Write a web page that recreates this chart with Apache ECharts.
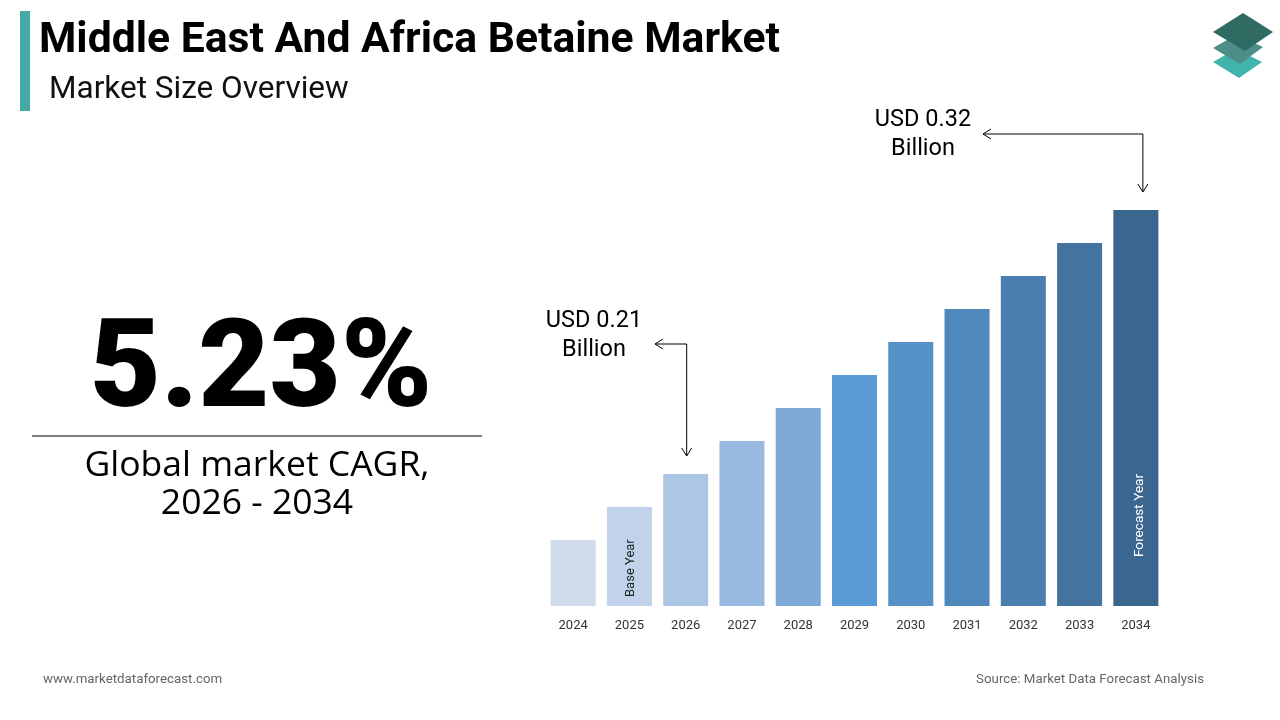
<!DOCTYPE html>
<html>
<head>
<meta charset="utf-8">
<script src="https://cdn.jsdelivr.net/npm/echarts@6/dist/echarts.min.js"></script>
<style>
html,body{margin:0;padding:0;background:#fff;}
#c{width:1280px;height:720px;}
</style>
</head>
<body>
<div id="c"></div>
<script>
// ---- data ----
const years = ['2024','2025','2026','2027','2028','2029','2030','2031','2032','2033','2034'];
// relative bar heights as drawn in the picture (stylised growth bars)
const barValues = [2, 3, 4, 5, 6, 7, 8, 9, 10, 11, 12];
const barColors = ['#d0dcec','#c0d3ea','#adc6e5','#97b9df','#7eaad9','#5b9bd5','#5590c7','#4f88bb','#4a7eaf','#4473a0','#3b6690'];
const titleText = 'Middle East And Africa Betaine Market';
const subtitleText = 'Market Size Overview';
const cagrText = '5.23%';
const cagrCaption = ['Global market CAGR,', '2026 - 2034'];
const annotations = [
  {year: '2026', text: ['USD 0.21', 'Billion']},
  {year: '2034', text: ['USD 0.32', 'Billion']}
];
const specialLabels = {'2025': 'Base Year', '2034': 'Forecast Year'};
const footerLeft = 'www.marketdataforecast.com';
const footerRight = 'Source: Market Data Forecast Analysis';

const chart = echarts.init(document.getElementById('c'), null, {renderer: 'canvas'});

const seriesData = barValues.map((v, i) => {
  const d = {value: v, itemStyle: {color: barColors[i]}};
  const sl = specialLabels[years[i]];
  if (sl) {
    const isForecast = years[i] === '2034';
    d.label = {
      show: true,
      formatter: sl,
      position: 'insideBottom',
      rotate: 90,
      align: 'left',
      verticalAlign: 'middle',
      distance: isForecast ? 49 : 9,
      offset: isForecast ? [0, 4] : [0, 1],
      color: isForecast ? '#ffffff' : '#222222',
      fontSize: isForecast ? 13.6 : 13,
      fontFamily: 'Roboto'
    };
  }
  return d;
});

const option = {
  animation: false,
  backgroundColor: '#ffffff',
  grid: {left: 545, right: 116, top: 210, bottom: 114},
  xAxis: {
    type: 'category',
    data: years,
    axisLine: {show: false},
    axisTick: {show: false},
    axisLabel: {color: '#333', fontSize: 13, fontFamily: 'Roboto', margin: 13}
  },
  yAxis: {type: 'value', min: 0, max: 12, show: false, splitLine: {show: false}},
  series: [{
    type: 'bar',
    data: seriesData,
    barCategoryGap: '20%',
    label: {show: false}
  }]
};
chart.setOption(option);

function buildGraphics() {
  const g = [];
  // left accent bar
  g.push({type: 'rect', shape: {x: 20, y: 11, width: 10, height: 100}, style: {fill: '#45a9a6'}});
  g.push({type: 'text', style: {text: titleText, x: 39, y: 41, verticalAlign: 'middle', font: 'bold 42.7px Roboto', fill: '#000'}});
  g.push({type: 'text', style: {text: subtitleText, x: 49, y: 90, verticalAlign: 'middle', font: '31.5px Roboto', fill: '#111'}});
  // logo
  g.push({type: 'polygon', shape: {points: [[1213,62],[1236,49],[1262,62],[1239,78]]}, style: {fill: '#40b3ad'}});
  g.push({type: 'polygon', shape: {points: [[1213,48],[1236,35],[1263,47],[1240,64]]}, style: {fill: '#4d8f88'}});
  g.push({type: 'polygon', shape: {points: [[1213,32],[1243,13],[1273,32],[1245,51]]}, style: {fill: '#2f6b63'}});
  // CAGR block
  g.push({type: 'text', style: {text: cagrText, x: 261, y: 375, align: 'center', verticalAlign: 'middle', font: '900 123px Roboto', fill: '#000'}});
  g.push({type: 'line', shape: {x1: 32, y1: 436, x2: 482, y2: 436}, style: {stroke: '#000', lineWidth: 1}});
  g.push({type: 'text', style: {text: cagrCaption[0], x: 257, y: 466, align: 'center', verticalAlign: 'middle', font: '35.5px "Open Sans"', fill: '#000'}});
  g.push({type: 'text', style: {text: cagrCaption[1], x: 257, y: 504, align: 'center', verticalAlign: 'middle', font: '35.5px "Open Sans"', fill: '#000'}});
  // annotations anchored to bars
  annotations.forEach((a, k) => {
    const idx = years.indexOf(a.year);
    const top = chart.convertToPixel({gridIndex: 0}, [idx, barValues[idx]]);
    const bx = top[0] + (k === 0 ? 1 : 7);
    const arrowEndY = top[1] - 18;
    const hy = k === 0 ? 344 : 134;
    const hx0 = k === 0 ? 655 : 983;
    const tx = k === 0 ? 594 : 923;
    const ty = k === 0 ? 321 : 120;
    g.push({type: 'polyline', shape: {points: [[hx0, hy], [bx, hy], [bx, arrowEndY]]}, style: {stroke: '#000', lineWidth: 1, fill: null}});
    g.push({type: 'polyline', shape: {points: [[hx0 + 8, hy - 5], [hx0, hy], [hx0 + 8, hy + 5]]}, style: {stroke: '#000', lineWidth: 1, fill: null}});
    g.push({type: 'polyline', shape: {points: [[bx - 5, arrowEndY - 8], [bx, arrowEndY], [bx + 5, arrowEndY - 8]]}, style: {stroke: '#000', lineWidth: 1, fill: null}});
    g.push({type: 'text', style: {text: a.text[0], x: tx, y: ty, align: 'center', verticalAlign: 'middle', font: '23.5px Roboto', fill: '#000'}});
    g.push({type: 'text', style: {text: a.text[1], x: tx, y: ty + 29, align: 'center', verticalAlign: 'middle', font: '23.5px Roboto', fill: '#000'}});
  });
  // footer
  g.push({type: 'text', style: {text: footerLeft, x: 43, y: 680, verticalAlign: 'middle', font: '13.3px Roboto', fill: '#666'}});
  g.push({type: 'text', style: {text: footerRight, x: 1204, y: 680, align: 'right', verticalAlign: 'middle', font: '13.3px Roboto', fill: '#666'}});
  return g;
}
chart.setOption({graphic: buildGraphics()});
</script>
</body>
</html>
